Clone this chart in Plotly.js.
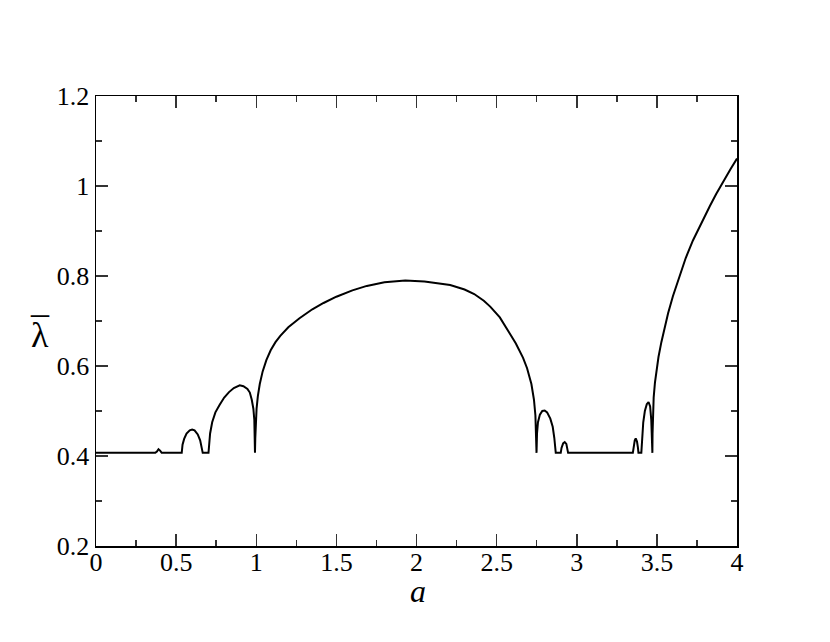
<!DOCTYPE html>
<html>
<head>
<meta charset="utf-8">
<script src="https://cdn.plot.ly/plotly-3.0.1.min.js"></script>
<style>html,body{margin:0;padding:0;background:#fff;}#plot{width:830px;height:642px;}</style>
</head>
<body>
<div id="plot"></div>
<script>
var aValues = [
  0, 0.37, 0.38, 0.39, 0.40, 0.41,
  0.535, 0.540, 0.550, 0.565, 0.585, 0.600, 0.615, 0.635, 0.650, 0.660, 0.666,
  0.702, 0.706, 0.712, 0.725, 0.745, 0.770, 0.800, 0.830, 0.860, 0.897, 0.920, 0.945, 0.960, 0.972, 0.982, 0.988, 0.991, 0.992,
  0.994, 0.997, 1.002, 1.010, 1.022, 1.040, 1.063, 1.09, 1.12, 1.15, 1.20, 1.27, 1.35, 1.42, 1.50, 1.60, 1.69, 1.80, 1.93,
  2.05, 2.15, 2.21, 2.30, 2.36, 2.42, 2.46, 2.52, 2.58, 2.62, 2.665, 2.69, 2.717, 2.733, 2.742, 2.746, 2.748, 2.749,
  2.752, 2.758, 2.770, 2.785, 2.800, 2.815, 2.835, 2.850, 2.860, 2.866, 2.869,
  2.900, 2.905, 2.915, 2.925, 2.935, 2.942, 2.946,
  3.350, 3.355, 3.362, 3.368, 3.376, 3.382, 3.385,
  3.403, 3.407, 3.415, 3.425, 3.437, 3.448, 3.458, 3.465, 3.469, 3.472,
  3.473, 3.476, 3.480, 3.488, 3.497, 3.51, 3.528, 3.55, 3.57, 3.60, 3.643, 3.68, 3.725, 3.78, 3.83, 3.87, 3.913, 3.96, 4.0
];
var lambdaValues = [
  0.407, 0.407, 0.410, 0.415, 0.412, 0.407,
  0.407, 0.425, 0.438, 0.450, 0.457, 0.459, 0.457, 0.448, 0.435, 0.420, 0.407,
  0.407, 0.430, 0.450, 0.475, 0.497, 0.513, 0.530, 0.542, 0.551, 0.557, 0.555, 0.549, 0.541, 0.525, 0.505, 0.480, 0.450, 0.407,
  0.440, 0.475, 0.505, 0.533, 0.560, 0.588, 0.613, 0.635, 0.653, 0.667, 0.686, 0.706, 0.726, 0.740, 0.754, 0.768, 0.778, 0.786, 0.790,
  0.788, 0.784, 0.780, 0.770, 0.760, 0.745, 0.732, 0.708, 0.675, 0.650, 0.618, 0.595, 0.560, 0.525, 0.490, 0.460, 0.435, 0.407,
  0.450, 0.475, 0.492, 0.500, 0.501, 0.497, 0.483, 0.465, 0.440, 0.420, 0.407,
  0.407, 0.418, 0.428, 0.431, 0.427, 0.417, 0.407,
  0.407, 0.424, 0.435, 0.439, 0.432, 0.418, 0.407,
  0.407, 0.440, 0.475, 0.500, 0.515, 0.520, 0.510, 0.480, 0.445, 0.407,
  0.450, 0.500, 0.530, 0.563, 0.590, 0.620, 0.653, 0.688, 0.717, 0.755, 0.803, 0.840, 0.879, 0.920, 0.955, 0.982, 1.010, 1.038, 1.061
];
var xTickVals = [0, 0.5, 1, 1.5, 2, 2.5, 3, 3.5, 4];
var xTickText = ["0", "0.5", "1", "1.5", "2", "2.5", "3", "3.5", "4"];
var yTickVals = [0.2, 0.4, 0.6, 0.8, 1, 1.2];
var yTickText = ["0.2", "0.4", "0.6", "0.8", "1", "1.2"];

var serif = "Liberation Serif";
var trace = {
  x: aValues, y: lambdaValues, type: 'scatter', mode: 'lines',
  line: {color: '#000', width: 2}, hoverinfo: 'skip'
};
var axisCommon = {
  showgrid: false, zeroline: false, showline: true, mirror: 'ticks',
  linecolor: '#000', linewidth: 1.5,
  ticks: 'inside', ticklen: 12, tickwidth: 1.5, tickcolor: '#333',
  tickmode: 'array',
  tickfont: {family: serif, size: 26, color: '#000'}
};
var layout = {
  width: 830, height: 642,
  margin: {l: 96, r: 93, t: 96, b: 96},
  paper_bgcolor: '#fff', plot_bgcolor: '#fff',
  showlegend: false,
  font: {family: serif},
  xaxis: Object.assign({}, axisCommon, {
    range: [0, 4], tickvals: xTickVals, ticktext: xTickText, ticklabelstandoff: -8,
    minor: {dtick: 0.25, tick0: 0, ticks: 'inside', ticklen: 6, tickwidth: 1.5, tickcolor: '#333'}
  }),
  yaxis: Object.assign({}, axisCommon, {
    range: [0.2, 1.2], tickvals: yTickVals, ticktext: yTickText,
    minor: {dtick: 0.1, tick0: 0.2, ticks: 'inside', ticklen: 6, tickwidth: 1.5, tickcolor: '#333'}
  }),
  annotations: [
    {text: '<i>a</i>', xref: 'paper', yref: 'paper', x: 0.502, y: -0.1, xanchor: 'center', yanchor: 'middle',
     showarrow: false, font: {family: serif, size: 32, color: '#000'}},
    {text: 'λ', xref: 'paper', yref: 'paper', x: -0.088, y: 0.47, xanchor: 'center', yanchor: 'middle',
     showarrow: false, font: {family: serif, size: 36, color: '#000'}},
    {text: '\u00AF', xref: 'paper', yref: 'paper', x: -0.088, y: 0.478, xanchor: 'center', yanchor: 'middle',
     showarrow: false, font: {family: serif, size: 36, color: '#000'}}
  ]
};
Plotly.newPlot('plot', [trace], layout, {displayModeBar: false, staticPlot: true});
</script>
</body>
</html>
